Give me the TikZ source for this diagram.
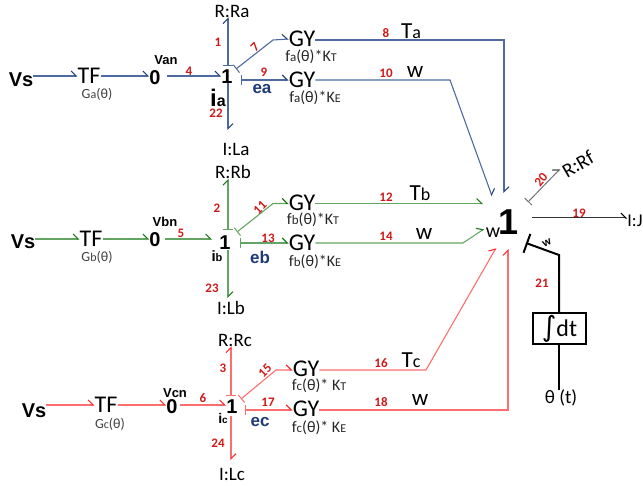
\documentclass[tikz,border=0pt]{standalone}
\usepackage{fontspec}
\setmainfont{Carlito}
\newfontfamily\armfont{Liberation Sans}
\newfontfamily\symfont{DejaVu Sans}
\usetikzlibrary{arrows.meta}
\definecolor{linea}{HTML}{4F6A9F}
\definecolor{heada}{HTML}{24457E}
\definecolor{lineb}{HTML}{63A563}
\definecolor{headb}{HTML}{1C7A1C}
\definecolor{linec}{HTML}{FF6E6E}
\definecolor{headc}{HTML}{FF2A2A}
\definecolor{numred}{HTML}{D01818}
\definecolor{effort}{HTML}{1F3A78}
\newcommand{\fs}[1]{\fontsize{#1}{#1}\selectfont}

\begin{document}
\begin{tikzpicture}[
    x=1pt, y=-1pt,
    bond/.style={-{Straight Barb[harpoon,length=5pt,width=10pt,line width=1.1pt,color=#1]}},
    cbond/.style={{Bar[width=10pt,line width=1pt]}-{Straight Barb[harpoon,length=5pt,width=10pt,line width=1.1pt,color=#1]}},
    lbl/.style={inner sep=0pt, font=\fs{19}},
    elem/.style={inner sep=0pt, font=\fs{24}},
    src/.style={inner sep=0pt, font=\armfont\bfseries\fs{20}},
    junc/.style={inner sep=0pt, font=\armfont\bfseries\fs{20}},
    gain/.style={inner sep=0pt, font=\fs{14}, text=black!75},
    fn/.style={inner sep=0pt, font=\fs{16}, text=black!85},
    volt/.style={inner sep=0pt, font=\armfont\bfseries\fs{13}},
    eff/.style={inner sep=0pt, font=\armfont\bfseries\fs{17}, text=effort},
    num/.style={inner sep=0pt, font=\bfseries\fs{13}, text=numred},
    var/.style={inner sep=0pt, font=\fs{23}}
  ]
  \useasboundingbox (0,0) rectangle (643,486);

  % Phase a
  \node[src] (vsa) at (21,80) {Vs};
  \node[elem] (tfa) at (89,76) {TF};
  \node[gain] (ga) at (97,94) {G\fs{12}a\fs{14}(θ)};
  \node[junc] (zeroa) at (155,78) {0};
  \node[volt] (vana) at (166,60) {Van};
  \node[junc] (onea) at (227,77) {1};
  \node[inner sep=0pt, font=\armfont\bfseries\fs{24}] (ia) at (218,98) {i\fs{16}a};
  \node[eff] (ea) at (262,89) {ea};
  \node[lbl] (ra) at (232,11) {R:Ra};
  \node[lbl] (la) at (236,149) {I:La};
  \node[elem] (gta) at (302,39) {GY};
  \node[elem] (gea) at (302,80) {GY};
  \node[fn] (fta) at (311,57) {f\fs{13}a\fs{16}(θ)*K\fs{12}T};
  \node[fn] (fea) at (315,98) {f\fs{13}a\fs{16}(θ)*K\fs{12}E};
  \node[var] (ta) at (411,31) {T\fs{18}a};
  \node[var] (wa) at (415,72) {w};

  % Phase b
  \node[src] (vsb) at (23,242) {Vs};
  \node[elem] (tfb) at (91,239) {TF};
  \node[gain] (gb) at (97,257) {G\fs{12}b\fs{14}(θ)};
  \node[junc] (zerob) at (155,240) {0};
  \node[volt] (vbnb) at (165,222) {Vbn};
  \node[junc] (oneb) at (225,243) {1};
  \node[inner sep=0pt, font=\armfont\bfseries\fs{15}] (ib) at (217,256) {i\fs{11}b};
  \node[eff] (eb) at (260,257) {eb};
  \node[lbl] (rb) at (233,172) {R:Rb};
  \node[lbl] (lb) at (231,308) {I:Lb};
  \node[elem] (gtb) at (302,203) {GY};
  \node[elem] (geb) at (302,243) {GY};
  \node[fn] (ftb) at (313,220) {f\fs{13}b\fs{16}(θ)*K\fs{12}T};
  \node[fn] (feb) at (315,262) {f\fs{13}b\fs{16}(θ)*K\fs{12}E};
  \node[var] (tb) at (420,193) {T\fs{18}b};
  \node[var] (wb) at (424,234) {w};

  % Phase c
  \node[src] (vsc) at (34,411) {Vs};
  \node[elem] (tfc) at (106,405) {TF};
  \node[gain] (gc) at (110,424) {G\fs{12}c\fs{14}(θ)};
  \node[junc] (zeroc) at (172,407) {0};
  \node[volt] (vcnc) at (175,393) {Vcn};
  \node[junc] (onec) at (232,407) {1};
  \node[inner sep=0pt, font=\armfont\bfseries\fs{14}] (ic) at (223,418) {i\fs{10}c};
  \node[eff] (ec) at (260,422) {ec};
  \node[lbl] (rc) at (235,340) {R:Rc};
  \node[lbl] (lc) at (232,474) {I:Lc};
  \node[elem] (gtc) at (306,369) {GY};
  \node[elem] (gec) at (306,409) {GY};
  \node[fn] (ftc) at (319,386) {f\fs{13}c\fs{16}(θ)* K\fs{12}T};
  \node[fn] (fec) at (319,428) {f\fs{13}c\fs{16}(θ)* K\fs{12}E};
  \node[var] (tc) at (411,360) {T\fs{18}c};
  \node[var] (wc) at (420,400) {w};

  % Shaft
  \node[inner sep=0pt, font=\armfont\bfseries\fs{36}] (shaft) at (509,222) {1};
  \node[inner sep=0pt, font=\fs{20}] (ws) at (493,233) {w};
  \node[inner sep=0pt, font=\fs{20}, rotate=30] (rf) at (578,164) {R:Rf};
  \node[inner sep=0pt, font=\fs{18}] (ij) at (635,221) {I:J};
  \node[draw, line width=1.6pt, minimum width=53pt, minimum height=31pt, inner sep=0pt,
        font=\fs{24}] (intg) at (559.5,328.5) {{\symfont\fs{28}∫}dt};
  \node[lbl] (thetat) at (561,398) {θ (t)};
  \node[inner sep=0pt, font=\bfseries\fs{12}, rotate=25] (wt) at (547,243) {w};

  % Elbows
  \coordinate (k7) at (273,40);
  \coordinate (k10) at (450,80);
  \coordinate (k8) at (504,40);
  \coordinate (k11) at (273,203.5);
  \coordinate (k14) at (463,243);
  \coordinate (k15) at (276,370);
  \coordinate (k16) at (426,370);
  \coordinate (k18) at (508,410);
  \coordinate (k21) at (559,255);
  \coordinate (ta8) at (504,193);
  \coordinate (ta10) at (492,196);
  \coordinate (tb12) at (483,203.5);
  \coordinate (tb14) at (484,229);
  \coordinate (tc16) at (496,248);
  \coordinate (tc18) at (508,249);
  \coordinate (s19) at (532,218);
  \coordinate (s20) at (528,202);
  \coordinate (t20) at (560,169);
  \coordinate (s21) at (526,243);
  \coordinate (sa7) at (236,69);
  \coordinate (sa9) at (241,80);
  \coordinate (sb11) at (237,232);
  \coordinate (sb13) at (240,243);
  \coordinate (sc15) at (241,399);
  \coordinate (sc17) at (245,410);

  % Blue bonds
  \begin{scope}[linea, line width=1.1pt]
    \draw[bond=heada] (vsa.east |- tfa) -- (tfa.west);
    \draw[bond=heada] (tfa.east) -- (zeroa.west |- tfa);
    \draw[bond=heada] (167,76) -- (onea.west |- 0,76);
    \draw[cbond=heada] (228,66) -- (ra.south -| 228,0);
    \draw[bond=heada] (228,83) -- (228,130);
    \draw[cbond=heada] (sa7) -- (k7) -- (gta.west);
    \draw[cbond=heada] (sa9) -- (gea.west |- sa9);
    \draw[bond=heada] (gta.east |- k7) -- (k8) -- (ta8);
    \draw[bond=heada] (gea.east |- k10) -- (k10) -- (ta10);
  \end{scope}

  % Green bonds
  \begin{scope}[lineb, line width=1.1pt]
    \draw[bond=headb] (vsb.east |- tfb) -- (tfb.west);
    \draw[bond=headb] (tfb.east) -- (zerob.west |- tfb);
    \draw[bond=headb] (165,239) -- (212,239);
    \draw[cbond=headb] (228,230) -- (rb.south -| 228,0);
    \draw[bond=headb] (228,250) -- (228,298);
    \draw[cbond=headb] (sb11) -- (k11) -- (gtb.west |- k11);
    \draw[cbond=headb] (sb13) -- (geb.west |- sb13);
    \draw[bond=headb] (gtb.east |- k11) -- (tb12);
    \draw[bond=headb] (geb.east |- k14) -- (k14) -- (tb14);
  \end{scope}

  % Red bonds
  \begin{scope}[linec, line width=1.1pt]
    \draw[bond=headc] (vsc.east |- tfc) -- (tfc.west);
    \draw[bond=headc] (tfc.east) -- (zeroc.west |- tfc);
    \draw[bond=headc] (180,405) -- (226,405);
    \draw[cbond=headc] (231,396) -- (rc.south -| 231,0);
    \draw[bond=headc] (231,416) -- (231,460);
    \draw[cbond=headc] (sc15) -- (k15) -- (gtc.west |- k15);
    \draw[cbond=headc] (sc17) -- (gec.west |- sc17);
    \draw[bond=headc] (gtc.east |- k15) -- (k16) -- (tc16);
    \draw[bond=headc] (gec.east |- k18) -- (k18) -- (tc18);
  \end{scope}

  % Shaft bonds
  \draw[bond=black, black!80, line width=1pt] (s19) -- (ij.west |- s19);
  \draw[cbond=black!70, black!55, line width=1pt] (s20) -- (t20);
  \draw[{Bar[width=20pt]}-, line width=2pt] (s21) -- (k21) -- (intg.north -| k21);
  \draw[line width=2pt] (intg.south -| k21) -- (thetat.north -| k21);

  % Bond numbers
  \foreach \n/\x/\y/\a in {1/218/42/0, 4/189/71/0, 7/255/47/45, 8/386/33/0, 9/264/72/0,
      10/386/73/0, 22/216/113/0, 2/217/208/0, 5/181/233/0, 11/260/208/45, 12/386/197/0,
      13/268/238/0, 14/386/236/0, 23/212/288/0, 3/223/368/0, 6/203/398/0, 15/265/371/45,
      16/381/363/0, 17/268/402/0, 18/381/402/0, 24/218/443/0, 19/579/213/0, 20/541/180/50,
      21/542/283/0} {
    \node[num, rotate=\a] (n\n) at (\x,\y) {\n};
  }
\end{tikzpicture}
\end{document}
